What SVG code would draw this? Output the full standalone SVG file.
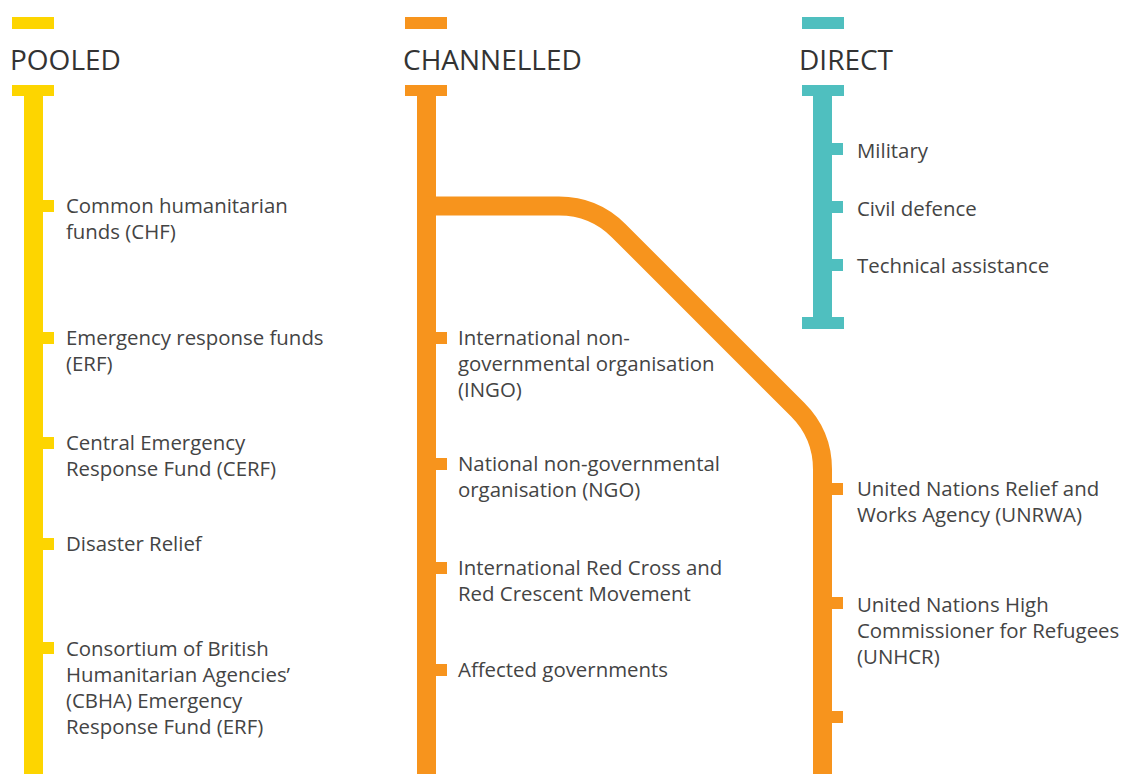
<svg xmlns="http://www.w3.org/2000/svg" width="1123" height="774" viewBox="0 0 1123 774">
<style>
.t{font-family:"Open Sans","Liberation Sans",sans-serif;font-size:28px;fill:#333}
.l{font-family:"Open Sans","Liberation Sans",sans-serif;font-size:20.4px;fill:#444}
.y{fill:#FDD500}.o{fill:#F7941D}.c{fill:#4FBFBF}
</style>
<rect width="1123" height="774" fill="#fff"/>
<g id="pooled">
<rect class="y" x="12" y="17" width="42" height="12"/>
<text class="t" x="10" y="70">POOLED</text>
<rect class="y" x="12" y="85" width="42" height="11"/>
<rect class="y" x="24" y="85" width="19" height="689"/>
</g>
<g id="channelled">
<rect class="o" x="405" y="17" width="42" height="12"/>
<text class="t" x="403" y="70">CHANNELLED</text>
<rect class="o" x="405" y="85" width="42" height="11"/>
<rect class="o" x="417" y="85" width="19" height="689"/>
</g>
<g id="direct">
<rect class="c" x="802" y="17" width="42" height="12"/>
<text class="t" x="799" y="70">DIRECT</text>
<rect class="c" x="802" y="85" width="42" height="11"/>
<rect class="c" x="813" y="85" width="19" height="244"/>
<rect class="c" x="802" y="317" width="42" height="12"/>
</g>
<g id="connectors">
<path d="M426,206 H559 Q594,206 618.7,230.7 L797.8,409.8 Q822.5,434.5 822.5,469.5 V774" fill="none" stroke="#F7941D" stroke-width="19"/>
</g>
<g id="pooled-items">
<rect class="y" x="43" y="200" width="11" height="12"/>
<text class="l" x="66" y="213">Common humanitarian<tspan x="66" dy="26">funds (CHF)</tspan></text>
<rect class="y" x="43" y="332" width="11" height="12"/>
<text class="l" x="66" y="345">Emergency response funds<tspan x="66" dy="26">(ERF)</tspan></text>
<rect class="y" x="43" y="437" width="11" height="12"/>
<text class="l" x="66" y="450">Central Emergency<tspan x="66" dy="26">Response Fund (CERF)</tspan></text>
<rect class="y" x="43" y="538" width="11" height="12"/>
<text class="l" x="66" y="551">Disaster Relief</text>
<rect class="y" x="43" y="642" width="11" height="12"/>
<text class="l" x="66" y="656">Consortium of British<tspan x="66" dy="26">Humanitarian Agencies’</tspan><tspan x="66" dy="26">(CBHA) Emergency</tspan><tspan x="66" dy="26">Response Fund (ERF)</tspan></text>
</g>
<g id="channelled-items">
<rect class="o" x="436" y="332" width="11" height="12"/>
<text class="l" x="458" y="345">International non-<tspan x="458" dy="26">governmental organisation</tspan><tspan x="458" dy="26">(INGO)</tspan></text>
<rect class="o" x="436" y="458" width="11" height="12"/>
<text class="l" x="458" y="471">National non-governmental<tspan x="458" dy="26">organisation (NGO)</tspan></text>
<rect class="o" x="436" y="562" width="11" height="12"/>
<text class="l" x="458" y="575">International Red Cross and<tspan x="458" dy="26">Red Crescent Movement</tspan></text>
<rect class="o" x="436" y="664" width="11" height="12"/>
<text class="l" x="458" y="677">Affected governments</text>
</g>
<g id="un-items">
<rect class="o" x="832" y="483" width="11" height="12"/>
<text class="l" x="857" y="496">United Nations Relief and<tspan x="857" dy="26">Works Agency (UNRWA)</tspan></text>
<rect class="o" x="832" y="597" width="11" height="12"/>
<text class="l" x="857" y="612">United Nations High<tspan x="857" dy="26">Commissioner for Refugees</tspan><tspan x="857" dy="26">(UNHCR)</tspan></text>
<rect class="o" x="832" y="711" width="11" height="12"/>
</g>
<g id="direct-items">
<rect class="c" x="832" y="143" width="11" height="12"/>
<text class="l" x="857" y="158">Military</text>
<rect class="c" x="832" y="201" width="11" height="12"/>
<text class="l" x="857" y="216">Civil defence</text>
<rect class="c" x="832" y="259" width="11" height="12"/>
<text class="l" x="857" y="273">Technical assistance</text>
</g>
</svg>
